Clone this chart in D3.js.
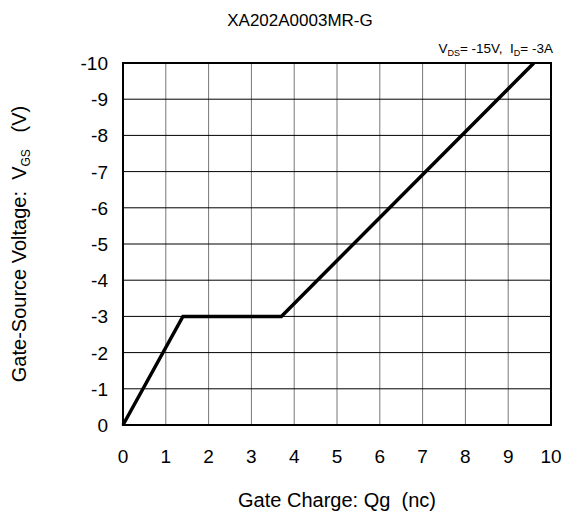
<!DOCTYPE html>
<html>
<head>
<meta charset="utf-8">
<script src="https://cdn.jsdelivr.net/npm/d3@7"></script>
<style>
  body { margin: 0; background: #fff; }
  text { font-family: "Liberation Sans", Arial, sans-serif; fill: #000; white-space: pre; }
</style>
</head>
<body>
<div id="chart"></div>
<script>
// gate charge curve points (nC, V)
var qg = [0, 1.4, 3.7, 9.6];
var vgs = [0, -3, -3, -10];
var xTicks = [0, 1, 2, 3, 4, 5, 6, 7, 8, 9, 10];
var yTicks = [0, -1, -2, -3, -4, -5, -6, -7, -8, -9, -10];

var w = 563, h = 518,
    margin = {top: 63, right: 12, bottom: 93, left: 123};
var width = w - margin.left - margin.right,
    height = h - margin.top - margin.bottom;

var svg = d3.select("#chart").append("svg")
    .attr("width", w)
    .attr("height", h);

var chart = svg.append("g")
    .attr("transform", "translate(" + margin.left + "," + margin.top + ")");

var x = d3.scaleLinear().domain([0, 10]).range([0, width]),
    y = d3.scaleLinear().domain([0, -10]).range([height, 0]);

// grid
chart.selectAll(".vgrid")
    .data(xTicks.slice(1, -1))
    .enter().append("line")
    .attr("x1", function (d) { return x(d); })
    .attr("x2", function (d) { return x(d); })
    .attr("y1", 0).attr("y2", height)
    .attr("stroke", "#777").attr("stroke-width", 1);

chart.selectAll(".hgrid")
    .data(yTicks.slice(1, -1))
    .enter().append("line")
    .attr("x1", 0).attr("x2", width)
    .attr("y1", function (d) { return y(d); })
    .attr("y2", function (d) { return y(d); })
    .attr("stroke", "#000").attr("stroke-width", 1);

// curve
var line = d3.line()
    .x(function (d, i) { return x(qg[i]); })
    .y(function (d, i) { return y(vgs[i]); });

chart.append("path")
    .datum(qg)
    .attr("d", line)
    .attr("fill", "none")
    .attr("stroke", "#000")
    .attr("stroke-width", 3.5)
    .attr("stroke-linejoin", "miter");

// frame
chart.append("rect")
    .attr("width", width).attr("height", height)
    .attr("fill", "none").attr("stroke", "#000").attr("stroke-width", 2);

// tick labels
chart.selectAll(".xl")
    .data(xTicks)
    .enter().append("text")
    .attr("x", function (d) { return x(d); })
    .attr("y", height + 38)
    .attr("text-anchor", "middle")
    .style("font-size", "19px")
    .text(function (d) { return d; });

chart.selectAll(".yl")
    .data(yTicks)
    .enter().append("text")
    .attr("x", -15)
    .attr("y", function (d) { return y(d) + 7; })
    .attr("text-anchor", "end")
    .style("font-size", "19px")
    .text(function (d) { return d; });

// titles
svg.append("text")
    .attr("x", 300).attr("y", 26)
    .attr("text-anchor", "middle")
    .style("font-size", "17px")
    .text("XA202A0003MR-G");

var note = svg.append("text")
    .attr("x", 553).attr("y", 53)
    .attr("text-anchor", "end")
    .style("font-size", "13.5px");
note.append("tspan").text("V");
note.append("tspan").attr("dy", 3).style("font-size", "9px").text("DS");
note.append("tspan").attr("dy", -3).text("= -15V,  I");
note.append("tspan").attr("dy", 3).style("font-size", "9px").text("D");
note.append("tspan").attr("dy", -3).text("= -3A");

svg.append("text")
    .attr("x", 337).attr("y", 507)
    .attr("text-anchor", "middle")
    .style("font-size", "20px")
    .text("Gate Charge: Qg  (nc)");

var yt = svg.append("text")
    .attr("transform", "translate(26," + (margin.top + height / 2) + ") rotate(-90)")
    .attr("text-anchor", "middle")
    .style("font-size", "20px");
yt.append("tspan").text("Gate-Source Voltage:  V");
yt.append("tspan").attr("dy", 4).style("font-size", "12px").text("GS");
yt.append("tspan").attr("dy", -4).text("   (V)");
</script>
</body>
</html>
